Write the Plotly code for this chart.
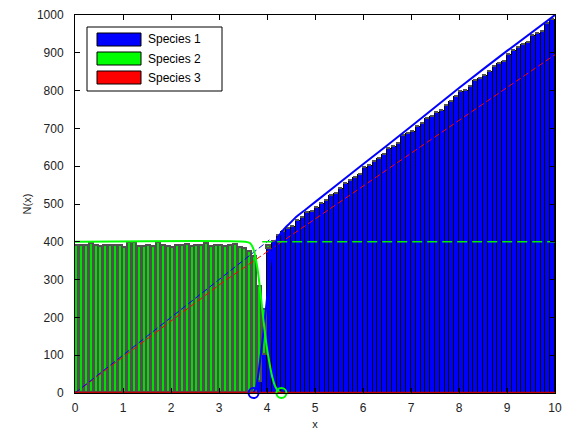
import plotly.graph_objects as go

# ---------------- data ----------------
bin_centers = [round(0.05 + 0.1 * i, 2) for i in range(100)]

species2_left = [388, 388, 390, 393, 390, 387, 390, 390, 388, 390, 383, 397, 397, 385,
                 385, 388, 386, 397, 390, 385, 383, 388, 388, 392, 386, 390, 388, 395,
                 386, 388, 390, 385, 388, 392, 383, 380, 372]
species2_trans = [360, 250, 120, 10]
species1_trans = [0, 30, 100, 380]
species1_right = [400, 415, 425, 435, 440, 455, 462, 475, 480, 490, 500, 508, 520, 527,
                  540, 552, 560, 570, 578, 595, 600, 612, 618, 630, 645, 652, 660, 680,
                  685, 690, 705, 712, 725, 730, 740, 745, 760, 770, 783, 795, 800, 810,
                  825, 830, 838, 850, 862, 870, 875, 895, 905, 912, 920, 925, 945, 950,
                  955, 975, 988]

species1_counts = [0] * 37 + species1_trans + species1_right
species2_counts = species2_left + species2_trans + [0] * 59
species3_counts = [0] * 100

# theoretical curves
s1_curve_x = [3.72, 3.78, 3.82, 3.86, 3.9, 3.95, 4.0, 4.05, 4.1, 4.15, 4.2, 4.3, 4.4,
              4.5, 4.6, 4.8, 5.0, 6.0, 7.0, 8.0, 9.0, 10.0]
s1_curve_y = [0, 20, 50, 90, 130, 190, 250, 320, 370, 392, 405, 425, 440, 452, 465,
              485, 505, 605, 705, 807, 905, 1000]
s2_curve_x = [0.0, 3.55, 3.65, 3.72, 3.8, 3.86, 3.92, 3.98, 4.05, 4.11, 4.18, 4.25, 4.3, 5.7]
s2_curve_y = [400, 400, 396, 380, 330, 270, 200, 135, 80, 42, 15, 3, 0, 0]
s3_curve_x = [0.0, 10.0]
s3_curve_y = [0, 0]

s1_dash_x = [0.0, 4.05]
s1_dash_y = [0, 405]
s2_dash_x = [3.9, 10.0]
s2_dash_y = [400, 400]
s3_dash_x = [0.0, 3.1, 10.0]
s3_dash_y = [0, 295, 895]

circle_x = [3.72, 4.3]
circle_y = [0, 0]

legend_labels = ["Species 1", "Species 2", "Species 3"]
legend_colors = ["#0000ff", "#00ff00", "#ff0000"]

# ---------------- figure ----------------
fig = go.Figure()

fig.add_trace(go.Bar(x=bin_centers, y=species1_counts, width=0.1,
                     marker=dict(color="#0000ff", line=dict(color="#000000", width=1)),
                     showlegend=False))
fig.add_trace(go.Bar(x=bin_centers, y=species2_counts, width=0.08,
                     marker=dict(color="#00e000", line=dict(color="#505050", width=1.6)),
                     showlegend=False))
fig.add_trace(go.Bar(x=bin_centers, y=species3_counts, width=0.1,
                     marker=dict(color="#ff0000", line=dict(color="#000000", width=0)),
                     showlegend=False))

fig.add_trace(go.Scatter(x=s3_dash_x, y=s3_dash_y, mode="lines",
                         line=dict(color="#ff0000", width=1, dash="6px,3px"), showlegend=False))
fig.add_trace(go.Scatter(x=s1_dash_x, y=s1_dash_y, mode="lines",
                         line=dict(color="#0000ff", width=1, dash="6px,3px"), showlegend=False))
fig.add_trace(go.Scatter(x=s2_dash_x, y=s2_dash_y, mode="lines",
                         line=dict(color="#00ee00", width=1.5, dash="10px,5px"), showlegend=False))

fig.add_trace(go.Scatter(x=s1_curve_x, y=s1_curve_y, mode="lines",
                         line=dict(color="#0000ff", width=2, shape="spline", smoothing=0.6),
                         showlegend=False))
fig.add_trace(go.Scatter(x=s2_curve_x, y=s2_curve_y, mode="lines",
                         line=dict(color="#00ff00", width=2, shape="spline", smoothing=0.6),
                         showlegend=False, cliponaxis=False))
fig.add_trace(go.Scatter(x=s3_curve_x, y=s3_curve_y, mode="lines",
                         line=dict(color="#c00000", width=2.5),
                         showlegend=False, cliponaxis=False))

fig.add_trace(go.Scatter(x=circle_x, y=circle_y, mode="markers",
                         marker=dict(symbol="circle-open", size=10,
                                     color=["#0000ff", "#00ff00"], line=dict(width=2)),
                         showlegend=False, cliponaxis=False))

# ---------------- layout ----------------
L, R, T, B = 75, 555, 15, 393
W, H = 570, 433


def px(xp):
    return (xp - L) / (R - L)


def py(yp):
    return (B - yp) / (B - T)


shapes = [dict(type="rect", xref="paper", yref="paper",
               x0=px(87), x1=px(222), y0=py(91), y1=py(27),
               line=dict(color="#000000", width=1), fillcolor="#ffffff", layer="above")]
annotations = []
for i, (lab, col) in enumerate(zip(legend_labels, legend_colors)):
    top = 33 + 19 * i
    shapes.append(dict(type="rect", xref="paper", yref="paper",
                       x0=px(97), x1=px(141), y0=py(top + 13), y1=py(top),
                       line=dict(color="#000000", width=1), fillcolor=col, layer="above"))
    annotations.append(dict(xref="paper", yref="paper", x=px(146), y=py(top + 6.5),
                            text=lab, showarrow=False, xanchor="left", yanchor="middle",
                            font=dict(size=12, color="#000000")))

fig.update_layout(
    width=W, height=H,
    margin=dict(l=L, r=W - R, t=T, b=H - B),
    paper_bgcolor="#ffffff", plot_bgcolor="#ffffff",
    barmode="stack", bargap=0,
    font=dict(family="Liberation Sans, Arial, sans-serif", size=12, color="#222222"),
    shapes=shapes, annotations=annotations,
    showlegend=False,
)
fig.update_xaxes(range=[0, 10], dtick=1, tick0=0, ticks="inside", ticklen=5,
                 tickcolor="#000000", showline=True, linecolor="#000000", linewidth=1,
                 mirror="ticks", showgrid=False, zeroline=False, ticklabelstandoff=4,
                 automargin=False,
                 title=dict(text="x", standoff=5, font=dict(size=11)))
fig.update_yaxes(range=[0, 1000], dtick=100, tick0=0, ticks="inside", ticklen=5,
                 tickcolor="#000000", showline=True, linecolor="#000000", linewidth=1,
                 mirror="ticks", showgrid=False, zeroline=False, ticklabelstandoff=8,
                 automargin=False,
                 title=dict(text="N(x)", standoff=3, font=dict(size=11)))

fig.write_html("out.html")
